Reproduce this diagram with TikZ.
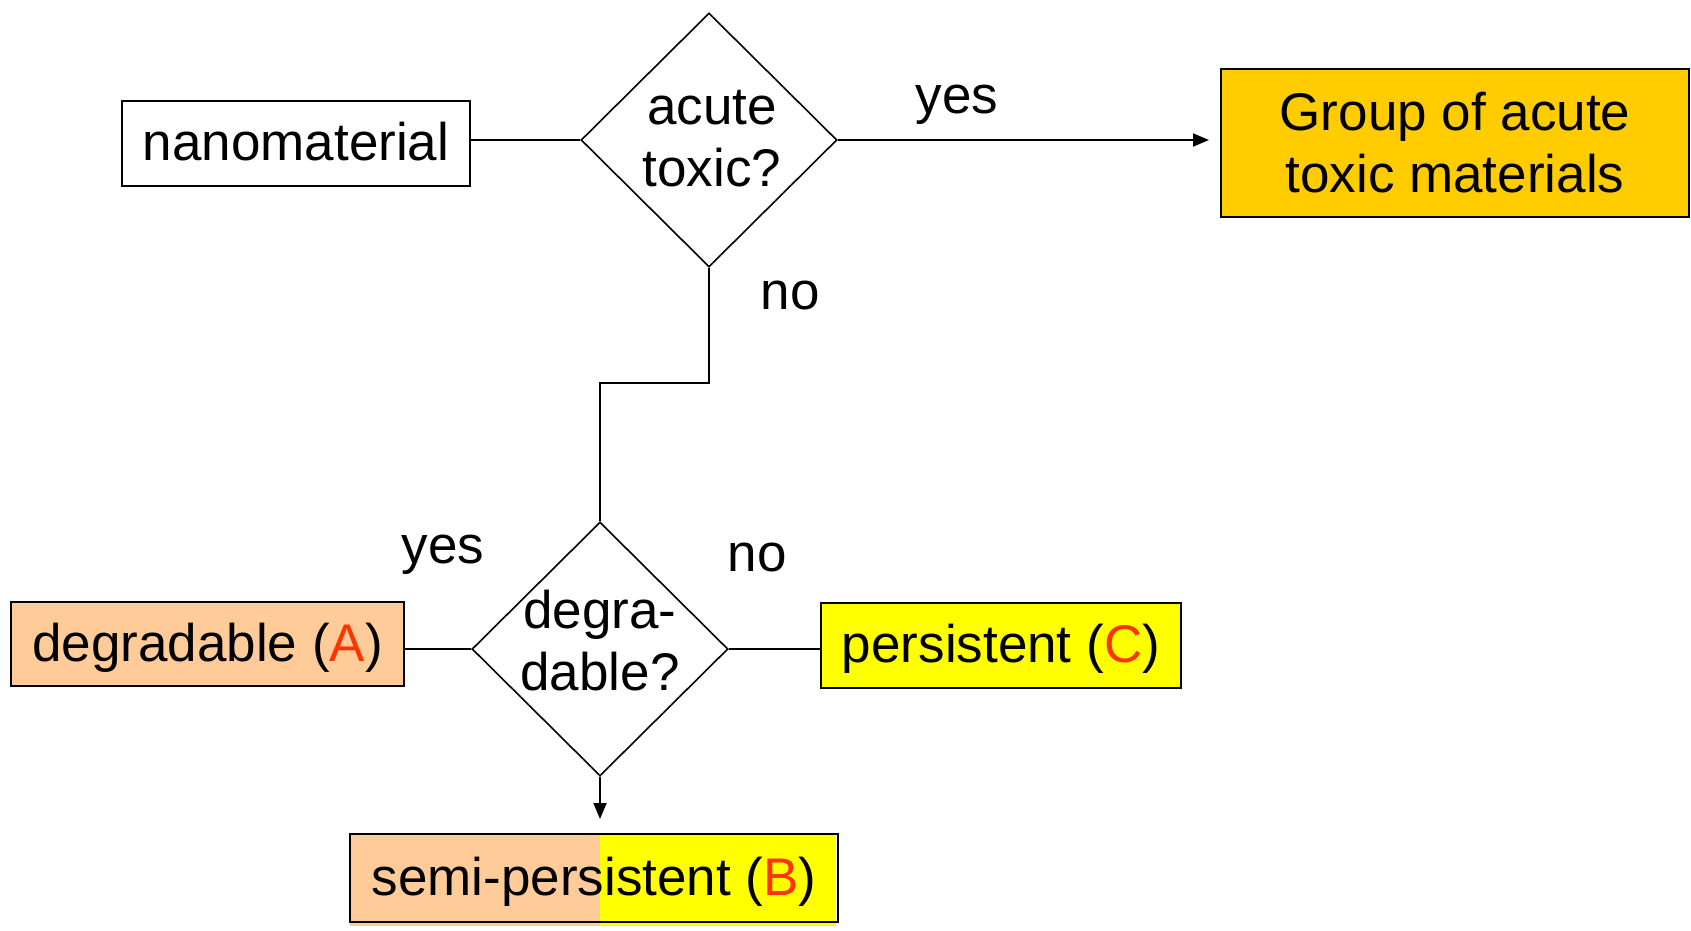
\documentclass[tikz,border=0pt]{standalone}
\usepackage{fontspec}
\setmainfont{Liberation Sans}
\usetikzlibrary{shapes.geometric,arrows.meta}
\definecolor{goldbox}{RGB}{255,204,0}
\definecolor{peach}{RGB}{255,204,153}
\definecolor{yel}{RGB}{255,255,0}
\definecolor{redl}{RGB}{255,51,0}
\tikzset{
  base/.style={font=\fontsize{53}{62}\selectfont},
  box/.style={base,draw=black,line width=2pt,inner sep=0pt,align=center},
  low/.style={text height=40pt,text depth=6pt},
  dia/.style={draw=black,line width=1.6pt,shape=diamond,inner sep=0pt,minimum width=256pt,minimum height=254pt},
  dtext/.style={base,align=center,inner sep=0pt},
  lbl/.style={base,inner sep=0pt},
  conn/.style={line width=1.8pt},
  arr/.style={conn,-{Triangle[length=16pt,width=13pt]}}
}
\newcommand{\red}[1]{\textcolor{redl}{#1}}
\begin{document}
\begin{tikzpicture}[x=1pt,y=-1pt]
\useasboundingbox (0,0) rectangle (1691,930);
% nodes
\node[box,low,minimum width=348pt,minimum height=85pt] (nano) at (296,143) {nanomaterial};
\node[dia] (d1) at (709,140) {};
\node[dtext] (d1t) at (712,139) {acute\\toxic?};
\node[box,fill=goldbox,minimum width=468pt,minimum height=148pt] (group) at (1455,143) {Group of acute\\toxic materials};
\node[dia] (d2) at (600,649) {};
\node[dtext] (d2t) at (600,641) {degra-\\dable?};
\node[box,low,fill=peach,minimum width=393pt,minimum height=84pt] (degr) at (207.5,644) {degradable (\red{A})};
\node[box,low,fill=yel,minimum width=360pt,minimum height=85pt] (pers) at (1001,645.5) {persistent (\red{C})};
% semi-persistent split fill
\fill[peach] (350,834) rectangle (600,926);
\fill[yel] (600,834) rectangle (836,926);
\node[box,low,minimum width=488pt,minimum height=88pt] (semi) at (594,878) {semi-persistent (\red{B})};
% labels
\node[lbl] (ly1) at (957,105) {yes};
\node[lbl] (ln1) at (790,295) {no};
\node[lbl] (ly2) at (443,555) {yes};
\node[lbl] (ln2) at (757,557) {no};
% connectors
\coordinate (k) at (0,383);
\draw[conn] (nano.east |- d1.west) -- (d1.west);
\draw[arr,shorten >=11pt] (d1.east) -- (d1.east -| group.west);
\draw[conn] (d1.south) -- (d1.south |- k) -- (d2.north |- k) -- (d2.north);
\draw[conn] (d2.west) -- (d2.west -| degr.east);
\draw[conn] (d2.east) -- (d2.east -| pers.west);
\draw[arr,shorten >=14pt] (d2.south) -- (d2.south |- semi.north);
\end{tikzpicture}
\end{document}
